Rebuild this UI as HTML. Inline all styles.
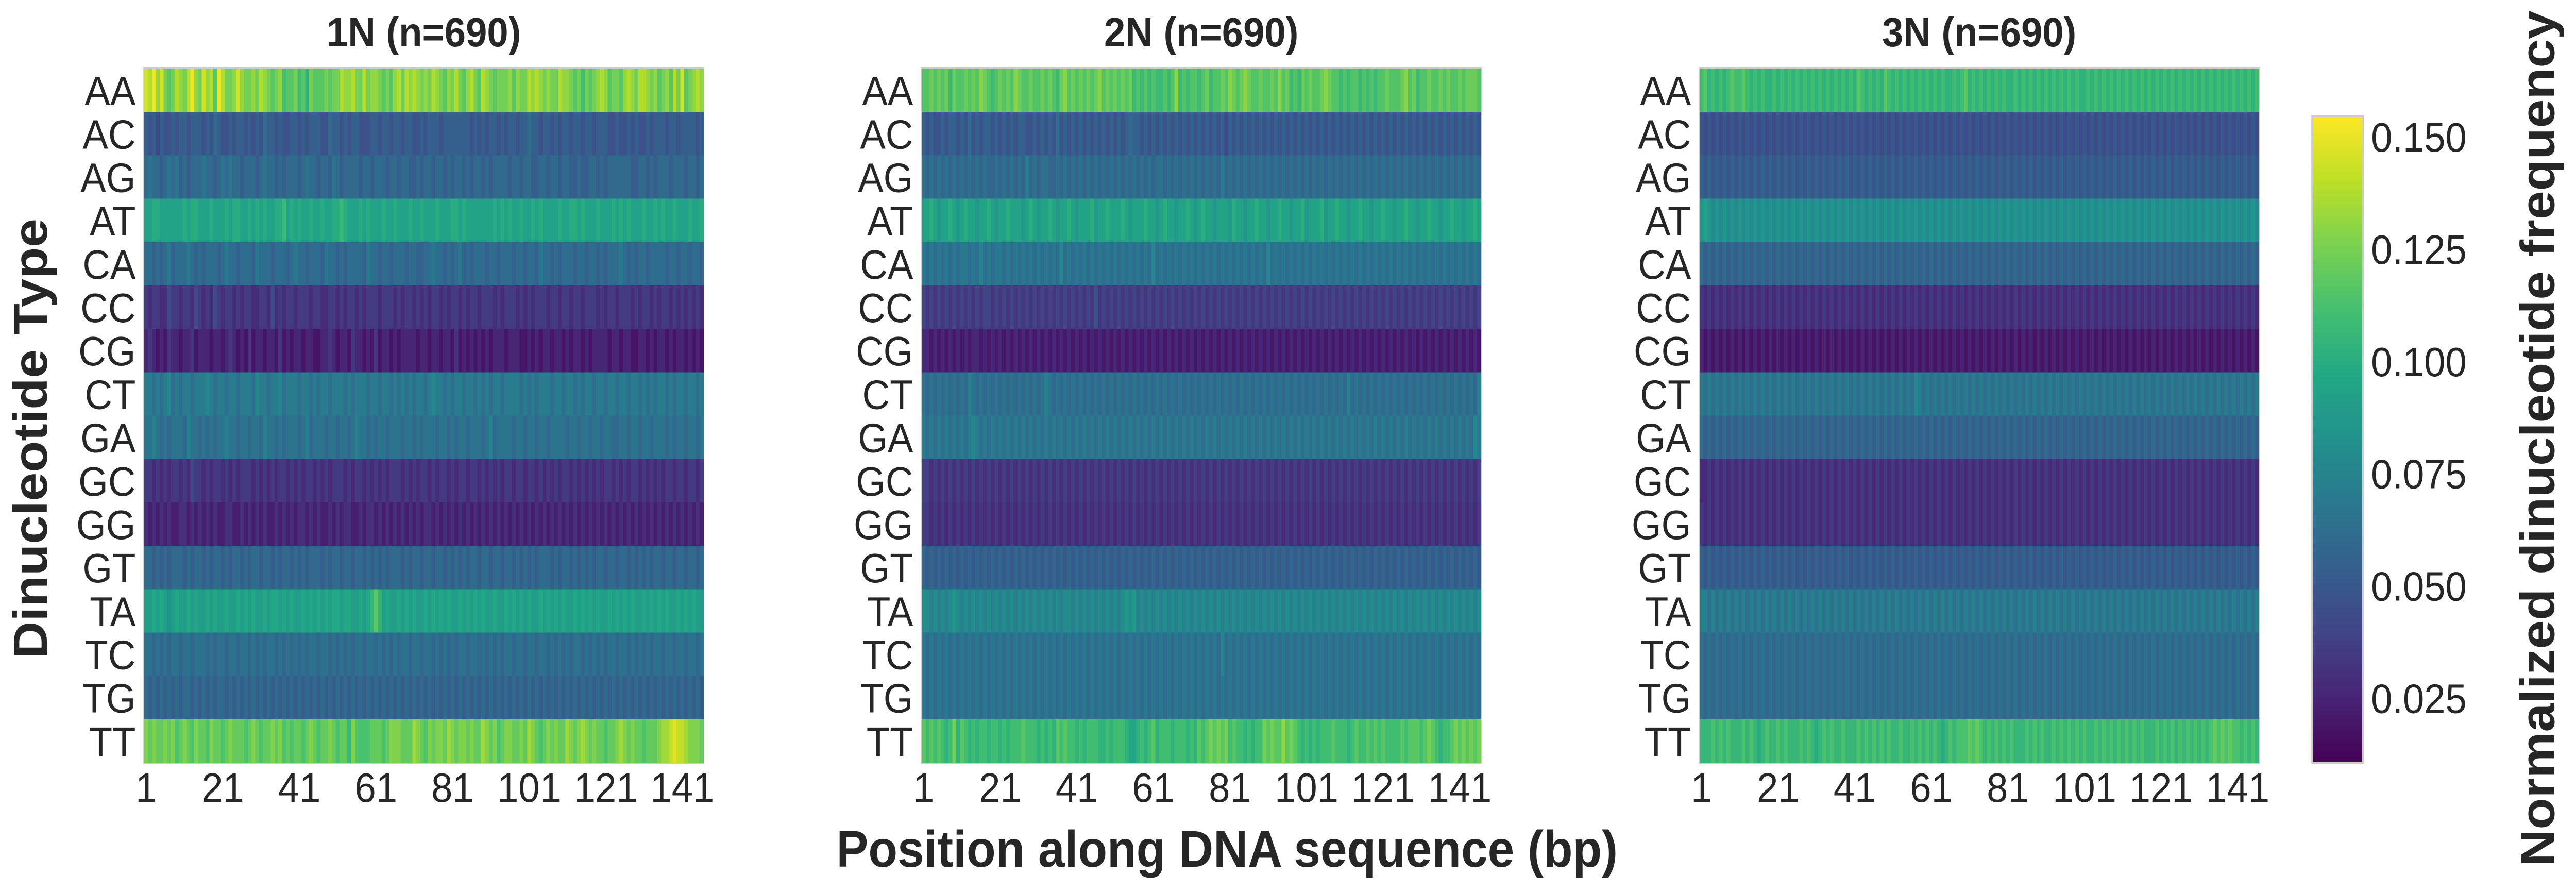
<!DOCTYPE html>
<html><head><meta charset="utf-8"><style>
html,body{margin:0;padding:0;background:#fff;overflow:hidden;width:100%;height:100%;}
svg{display:block;font-family:"Liberation Sans",Arial,sans-serif;width:100vw;height:100vh;}
</style></head><body>
<svg id="chart" xmlns="http://www.w3.org/2000/svg" viewBox="0 0 5391 1731" preserveAspectRatio="none">
<defs>
<linearGradient id="vir" x1="0" y1="1" x2="0" y2="0">
<stop offset="0" stop-color="#440154"/><stop offset="0.1" stop-color="#482475"/><stop offset="0.2" stop-color="#414487"/><stop offset="0.3" stop-color="#355f8d"/><stop offset="0.4" stop-color="#2a788e"/><stop offset="0.5" stop-color="#21918c"/><stop offset="0.6" stop-color="#22a884"/><stop offset="0.7" stop-color="#44bf70"/><stop offset="0.8" stop-color="#7ad151"/><stop offset="0.9" stop-color="#bddf26"/><stop offset="1" stop-color="#fde725"/>
</linearGradient>
</defs>
<g id="panels"></g>
<text x="0" y="0" transform="translate(98,851) rotate(-90)" text-anchor="middle" font-size="100" font-weight="bold" fill="#262626">Dinucleotide Type</text>
<text x="2568" y="1682" text-anchor="middle" font-size="100" font-weight="bold" fill="#262626">Position along DNA sequence (bp)</text>
<g id="colorbar">
<rect x="4839" y="225" width="106" height="1255" fill="url(#vir)" stroke="#cccccc" stroke-width="4"/>
</g>
<text x="0" y="0" transform="translate(5345,851) rotate(-90)" text-anchor="middle" font-size="100" font-weight="bold" fill="#262626">Normalized dinucleotide frequency</text>
</svg>
<script>
const rowLabels = ["AA","AC","AG","AT","CA","CC","CG","CT","GA","GC","GG","GT","TA","TC","TG","TT"];
const panelTitles = ["1N (n=690)","2N (n=690)","3N (n=690)"];
const xTickLabels = [1,21,41,61,81,101,121,141];
const cbTicks = [0.025,0.050,0.075,0.100,0.125,0.150];
const nPositions = 146;
const devStep = 0.007;
const rowMeans1N = [0.124,0.054,0.060,0.093,0.062,0.036,0.026,0.070,0.066,0.035,0.030,0.060,0.090,0.065,0.060,0.120];
const rowMeans2N = [0.115,0.055,0.064,0.094,0.069,0.040,0.027,0.066,0.070,0.037,0.035,0.058,0.080,0.068,0.068,0.110];
const rowMeans3N = [0.110,0.050,0.056,0.086,0.060,0.035,0.025,0.070,0.060,0.035,0.035,0.056,0.072,0.065,0.065,0.106];
const dev1N = [
"76857434654685475638644575445465434523342314333434465564464554343564656545465435464356436543444535446565454465543424345653443565466545345364734565",
"43424334344344434354334344343435443433443434443354434344333443443443443343444344444443434344343443445443443434434434434443343343433434443443444434",
"45443454534344454434545443444345443434443454434435434444344344434434433434434434344343443434444344344334434434433433443434444443344343444344434434",
"44554444445455444544454554454545445564545445445445565444545444544544454454445444554544444445454544544545444454455454445444545454445445454454445445",
"44343453444543434443454434443544434443454434443544343444435443443444344334454434345343444344344434434435443434443443443434445434344344443443443443",
"43443354434435434354344343443344353434434443443344343443434443444343443434344343443434434443434443434344434434434434443434434443434434344343434343",
"45434354434453444344345434353443443534344344334454344354434353443434444344344344353434343434443444334343443443434434344443443443344343443434434343",
"44343453434434445434434434443544344534443443434434443434443443443434343443454434344344343434434444343434443443443434434434434434434343443434434434",
"44543434443544343434454434434435443434443453444344344345443434434443443434443443434434443453444434434434434444344344344344334434434434443434434434",
"44343434434354434344343434443434343443434344343434443434434343434443434344343443434434434343434434434434343434434343434344343434434343434434434434",
"43434343344343434343344334343434334343434434343343434433434434343434343434434343434343434343434343434343434343434343434343434343434343434343434343",
"44343434443434434344343443434434434344343434443434434434434343434443434434434434343434434434434434343434443434434343434434434434343434434434434434",
"44545434544545445454454454545445455454544545454545545544545686454454545445454545445454545445445454545445454545445454545445454545445454545445454544",
"44343434434434443434434434434343443434343434434434343434434434343434434434434343434434434343434434434434434343434434343434434434343434434434434434",
"43434343434434343434434343434343434343434343434343434343434343434343434343434343434343434343434343434343434343434343434343434343434343434343434343",
"54544545345435443544345444345434454534344345434454344253333444345554446543545546545545446545345544546543454544654565454434456545443444566787765554"
];
const dev2N = [
"44545453544545465434545465445445454356454545456454545453434343343463434434534454654565445445464534354544565443434434343445444564534454454544545554",
"43433434434353434434343434433434343534343434343434343454434343434343434343434342434343434343434343434343434343434343434343434343434343434343434343",
"43434343434343434334343434353434433434343434343434343434343434434343434343434353434343434343434343434343434343434343434343434343434343434343434343",
"44543445434544344543445444345434454344543444534454445434445443454434454345443444354434454434454434453444534454434454434454434454434454434454434454",
"43434343434434353434434343434343434353434343434343434343434353434343434343434343434343434353434343434343434343434343434343434343434343434343434343",
"43434343434343434434343434343434343434343434353434343434343434343434343434343434343434343434343434343434343434343434343434343434343434343434343434",
"44343434343434434343434343434343434343434343434343434343434343434343434343434343434343434343434343434343434343434343434343434343434343434343434343",
"43434343434354343434343434343434543434343434343434343434343434343434343434343434343434343434343434343434343434353434343434343434343434343434343435",
"43434343434345434343434343434343434343434343434343434343434343434343434343434343434343434343434343434343434343434343434343434343434343434343434354",
"44343434343434343434343434343434343434343434343434343434343434343434343434343434343434343434343434343434343434343434343434343434343434343434343434",
"44343434343434343434343434343434343434343434343434343434343434343434343434343434343434343434343434343434343434343434343434343434343434343434343434",
"43434343434343434343434343434343434343434343434343434343434343434343434343434343434343434343434343434343434343434343434343434343434343434343434343",
"44343434543434343434343434343434343434434343434343434545343434343434343434343434343434343434343434343434343434343434343434343434343434343434343434",
"43434343434343434343434343434343434343434343434343434343434343434343434343434353434343434343434343434343434343434343434343434343434343434343434343",
"43434343434343434343434343434343434343434343434343434343434343434343434343434343434343434343434343434343434343434343434343434343434343434343434343",
"54545434635434344344343444544434343545443434443343444322343453444344434354565656454434344656557565434343444544434544545454444545554565434456565656"
];
const dev3N = [
"45343434544543434334343434343434343434343543434354343434343434343343453434343434334343434343434343433434343434343434343434343434343434343434343434",
"43434343434343434343434343434343434343434343434343434343434343434343434343434343434343434343434343434343434343434343434343434343434343434343434343",
"43434343434343434343434343434343434343434343434343434343434343434343434343434343434343434343434343434343434343434343434343434343434343434343434343",
"45434343434343434343434343434343434343434343434343434343434343434343434343434343434343434343434343434343434343434343434343434343434343434343434343",
"43434343434343434343434343434343434343434343434343434343434343434343434343434343434343434343434343434343434343434343434343434343434343434343434343",
"43434343434343434343434343434343434343434343434343434343434343434343434343434343434343434343434343434343434343434343434343434343434343434343434343",
"43434343434343434343434343434343434343434343434343434343434343434343434343434343434343434343434343434343434343434343434343434343434343434343434343",
"43434343434343434343434343434343434343434343434343434343543434343434343434343434343434343434343434343434343434343434343434343434343434343434343434",
"43434343434343434343434343434343434343434343434343434343434343434343434343434343434343434343434343434343434343434343434343434343434343434343434343",
"33434343434343434343434343434343434343434343434343434343434343434343434343434343434343434343434343434343434343434343434343434343434343434343434343",
"43434343434343434343434343434343434343434343434343434343434343434343434343434343434343434343434343434343434343434343434343434343434343434343434343",
"43434343434343434343434343434343434343434343434343434343434343434343434343434343434343434343434343434343434343434343434343434343434343434343434343",
"44343434343434343434343434343434343434343434343434343434343434343434343434343434343434343434343434343434343434343434343434343434343434343434343434",
"43434343434343434343434343434343434343434343434343434343434343434343434343434343434343434343434343434343434343434343434343434343434343434343434343",
"43434343434343434343434343434343434343434343434343434343434343434343434343434343434343434343434343434343434343434343434343434343434343434343434343",
"44454545444545434544545444545434545445444545454545445445454545434545556565454545454445454544545454545445454545454545444545454545454545656565545454"
];
const allMeans = [rowMeans1N,rowMeans2N,rowMeans3N];
const allDev = [dev1N,dev2N,dev3N];

const NS = "http://www.w3.org/2000/svg";
const panelX = [302,1929,3557], panelW = 1170, plotTop = 133, plotH = 1347;
const vmin = 0.0106, vmax = 0.1546;
const cbTop = 225, cbBot = 1480;
const VIR = [[68,1,84],[72,36,117],[65,68,135],[53,95,141],[42,120,142],[33,145,140],[34,168,132],[68,191,112],[122,209,81],[189,223,38],[253,231,37]];
function viridis(v){
  let t = (v - vmin)/(vmax - vmin); t = Math.max(0, Math.min(1, t));
  const f = t*10, i = Math.min(9, Math.floor(f)), r = f - i;
  const a = VIR[i], b = VIR[i+1];
  return "rgb(" + [0,1,2].map(k => Math.round(a[k] + (b[k]-a[k])*r)).join(",") + ")";
}
function xScale(p, pos){ return panelX[p] + (pos - 1) * panelW / nPositions; }
function yScale(row){ return plotTop + row * plotH / rowLabels.length; }
function cbY(v){ return cbBot - (v - vmin)/(vmax - vmin)*(cbBot - cbTop); }
function mk(tag, attrs, parent){ const e = document.createElementNS(NS, tag); for (const k in attrs) e.setAttribute(k, attrs[k]); parent.appendChild(e); return e; }

const root = document.getElementById("panels");
const cw = panelW / nPositions, rh = plotH / rowLabels.length;
for (let p = 0; p < 3; p++) {
  const g = mk("g", {}, root);
  
  
  const frame = mk("rect", {x: panelX[p]-2, y: plotTop-3, width: panelW+4, height: plotH+6, fill: "#cccccc"}, g);
  
  
  const cells = mk("g", {"shape-rendering":"crispEdges"}, g);
  
  
  for (let r = 0; r < rowLabels.length; r++) {
    const s = allDev[p][r];
    for (let c = 0; c < nPositions; c++) {
      const d = parseInt(s[c % s.length], 10) - 4;
      const v = allMeans[p][r] + d * devStep;
      const x0 = xScale(p, c+1), x1 = xScale(p, c+2);
      const cell = mk("rect", {x: x0.toFixed(2), y: yScale(r).toFixed(2), width: (x1-x0+0.6).toFixed(2), height: (rh+0.6).toFixed(2), fill: viridis(v)}, cells);
      
      
    }
  }
  const t = mk("text", {x: panelX[p] + panelW/2, y: 90, "text-anchor":"middle", "font-size":80, "font-weight":"bold", fill:"#262626"}, g);
  t.textContent = panelTitles[p];
  
  
  for (let r = 0; r < rowLabels.length; r++) {
    const lb = mk("text", {x: panelX[p] - 18, y: yScale(r) + rh/2 + 29, "text-anchor":"end", "font-size":80, fill:"#262626"}, g);
    lb.textContent = rowLabels[r];
    
    
  }
  for (const tk of xTickLabels) {
    const lx = mk("text", {x: xScale(p, tk) + cw/2, y: 1556, "text-anchor":"middle", "font-size":80, fill:"#262626"}, g);
    lx.textContent = String(tk);
    
    
  }
}
const cb = document.getElementById("colorbar");
for (const v of cbTicks) {
  const tl = mk("text", {x: 4962, y: cbY(v) + 29, "font-size":80, fill:"#262626"}, cb);
  tl.textContent = v.toFixed(3);
  
  
}
</script>
</body></html>
